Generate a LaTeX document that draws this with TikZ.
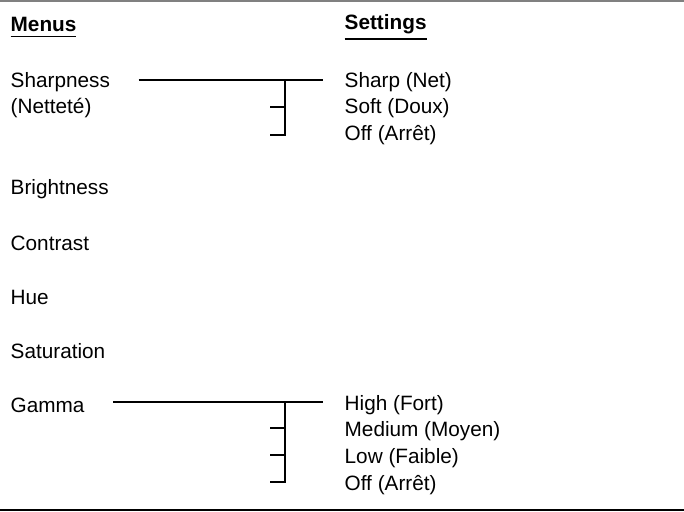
\documentclass[tikz,border=0pt]{standalone}
\usepackage{fontspec}
\setmainfont{Liberation Sans}
\begin{document}
\begin{tikzpicture}[x=0.01cm,y=-0.01cm,
    lbl/.style={anchor=west, inner sep=0pt, font=\fontsize{5.9}{7}\selectfont},
    head/.style={lbl, font=\fontsize{5.9}{7}\selectfont\bfseries},
    wire/.style={line width=0.35pt}]
    \useasboundingbox (0,0) rectangle (684,512);
    \draw[gray, line width=0.5pt] (0,1) -- (684,1);
    \draw[line width=0.5pt] (0,510) -- (684,510);

    % Headers
    \node[head] (menus) at (10,28) {\underline{Menus}};
    \node[head] (settings) at (344,28) {\underline{Settings}};

    % Menus
    \node[lbl] (sharp) at (10,82) {Sharpness};
    \node[lbl] (nette) at (10,108) {(Netteté)};
    \node[lbl] (bright) at (10,189) {Brightness};
    \node[lbl] (contr) at (10,243) {Contrast};
    \node[lbl] (hue) at (10,297) {Hue};
    \node[lbl] (satur) at (10,351) {Saturation};
    \node[lbl] (gamma) at (10,405) {Gamma};

    % Sharpness settings
    \node[lbl] (snet) at (344,82) {Sharp (Net)};
    \node[lbl] (sdoux) at (344,108) {Soft (Doux)};
    \node[lbl] (soff) at (344,135) {Off (Arrêt)};
    \coordinate (sj) at (285,80);
    \draw[wire] ([xshift=8pt]sharp.east) ++(0,-2) -- (323,80);
    \draw[wire] (sj) |- ([xshift=-21]soff.west);
    \draw[wire] (285,107) -- ([xshift=-21]sdoux.west |- 0,107);

    % Gamma settings
    \node[lbl] (ghigh) at (344,405) {High (Fort)};
    \node[lbl] (gmed) at (344,431) {Medium (Moyen)};
    \node[lbl] (glow) at (344,458) {Low (Faible)};
    \node[lbl] (goff) at (344,485) {Off (Arrêt)};
    \coordinate (gj) at (285,402);
    \draw[wire] ([xshift=8pt]gamma.east) ++(0,-3) -- (323,402);
    \draw[wire] (gj) -- (285,482) -- ([xshift=-21]goff.west |- 0,482);
    \draw[wire] (285,428) -- ([xshift=-21]gmed.west |- 0,428);
    \draw[wire] (285,455) -- ([xshift=-21]glow.west |- 0,455);
\end{tikzpicture}
\end{document}
